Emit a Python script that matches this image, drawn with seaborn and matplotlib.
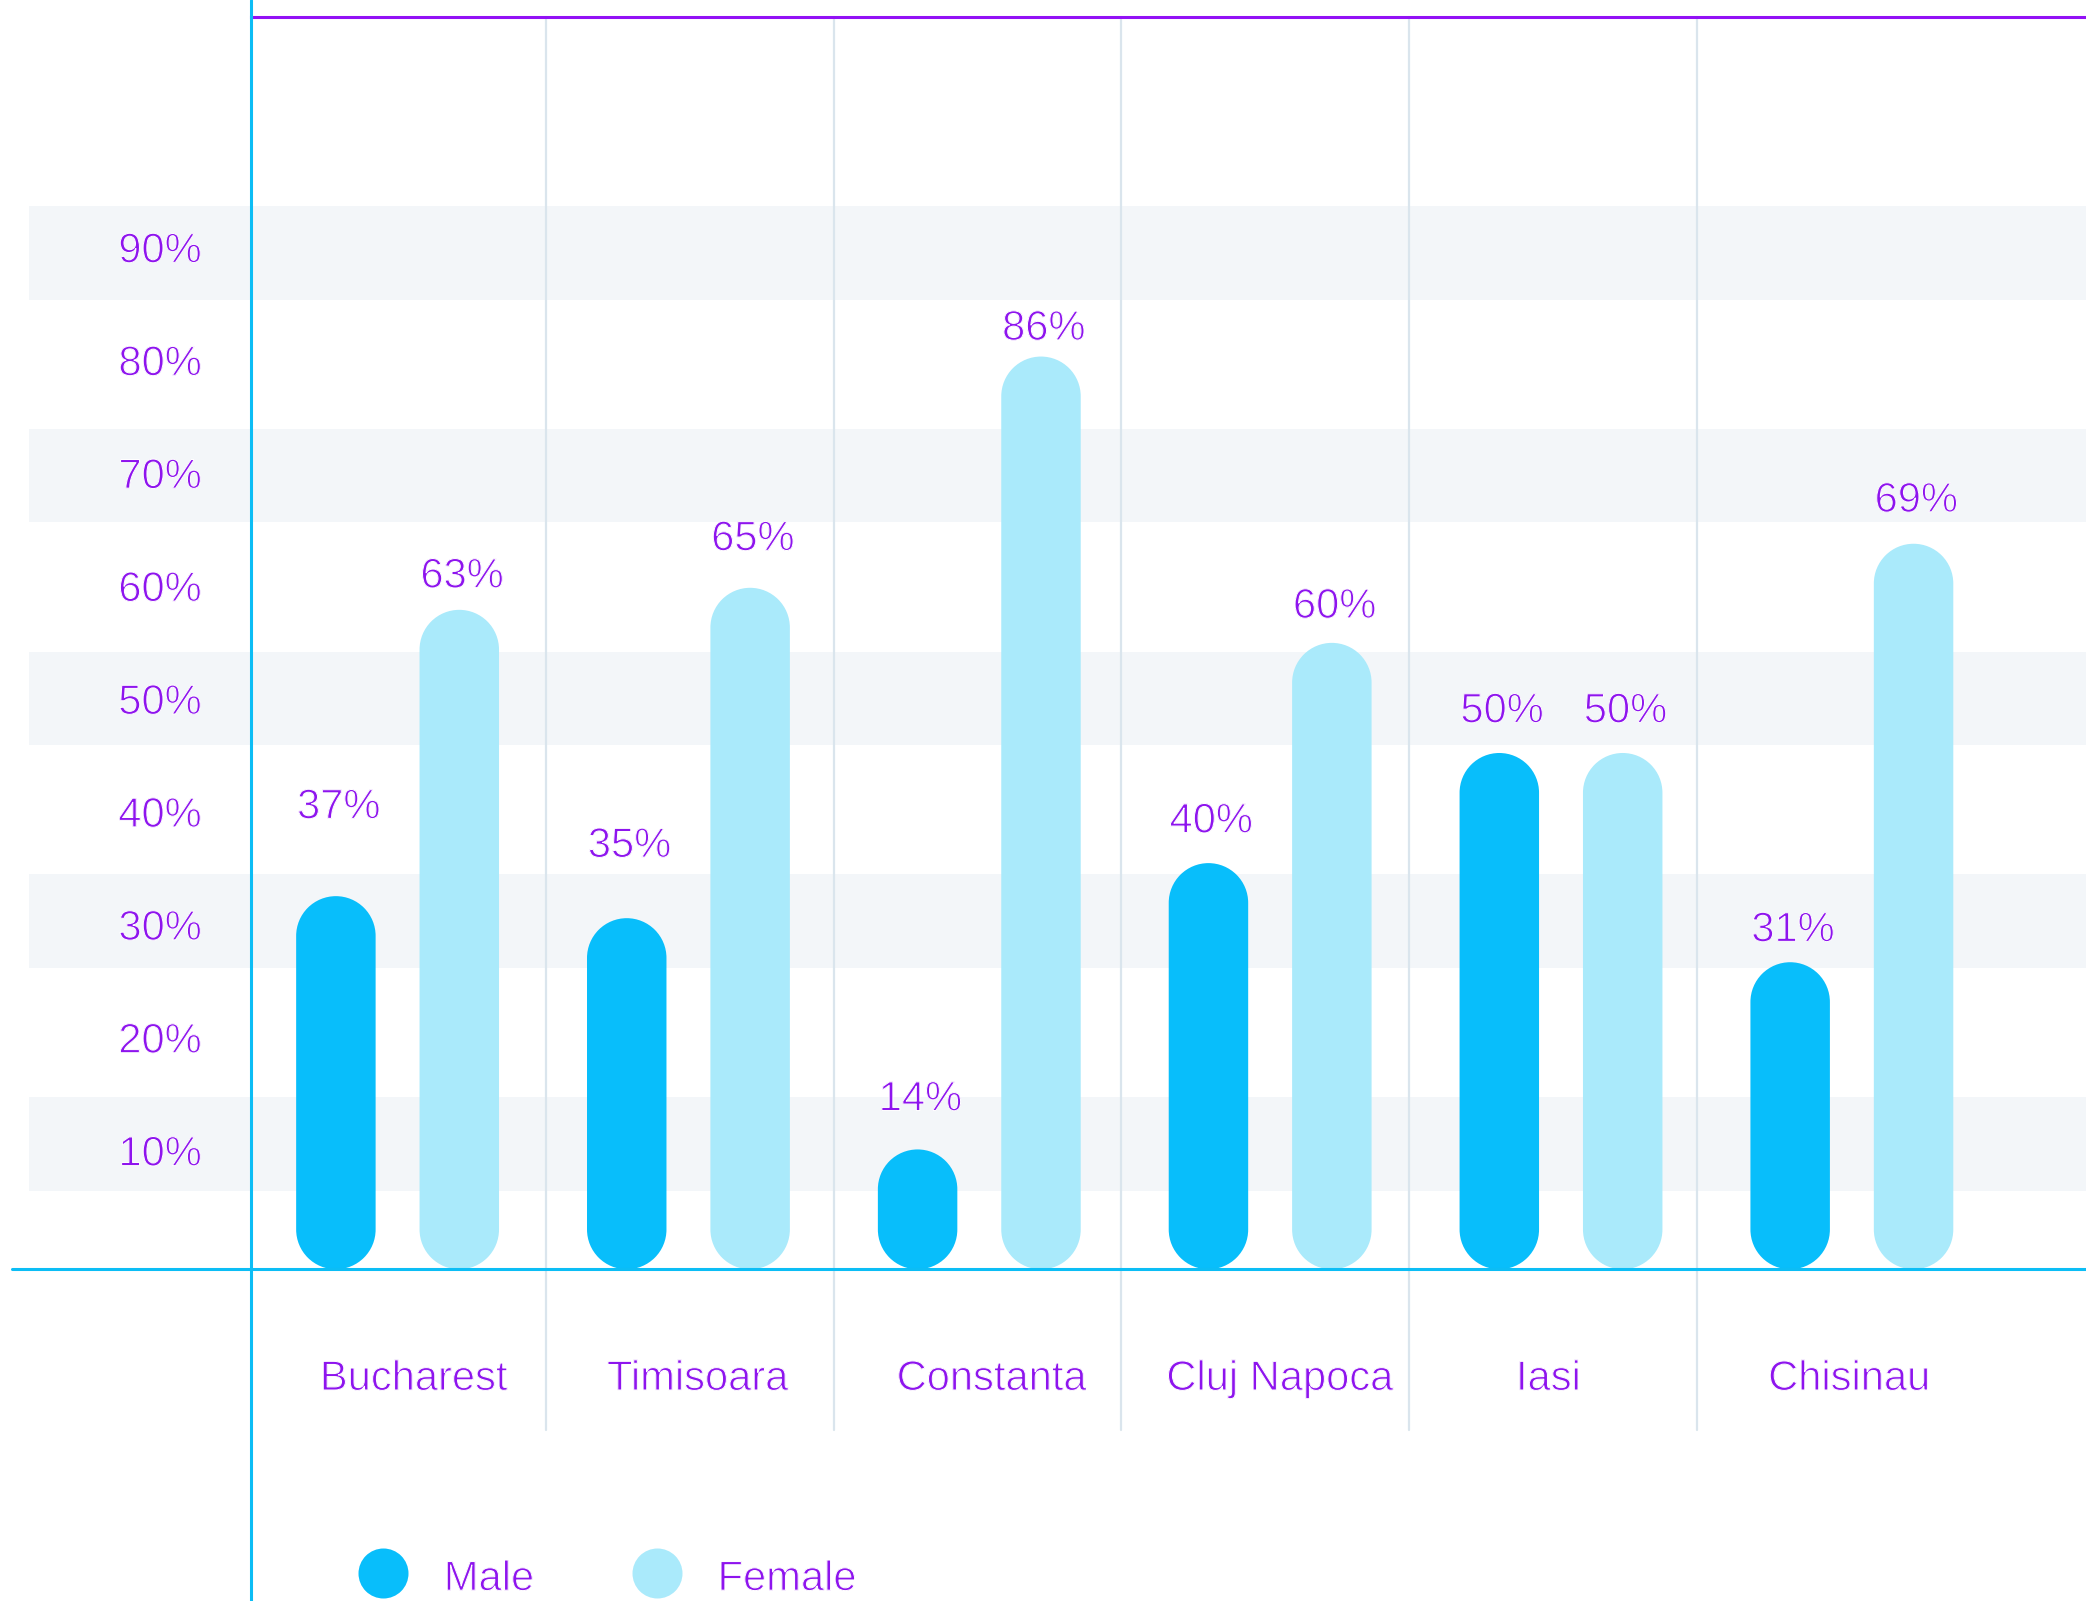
import numpy as np
import pandas as pd
import matplotlib
matplotlib.use("Agg")
import matplotlib.pyplot as plt
import matplotlib.patheffects as pe
from matplotlib.lines import Line2D
from matplotlib.patches import PathPatch
from matplotlib.path import Path
from matplotlib.text import Text
from matplotlib.transforms import ScaledTranslation
import seaborn as sns

# ---- data ----
cities = ["Bucharest", "Timisoara", "Constanta", "Cluj Napoca", "Iasi", "Chisinau"]
male = [37, 35, 14, 40, 50, 31]
female = [63, 65, 86, 60, 50, 69]
groups = ["Male", "Female"]
tick_values = [10, 20, 30, 40, 50, 60, 70, 80, 90]
band_values = [10, 30, 50, 70, 90]

# ---- styling ----
male_lift = [56, 44, 28, 22, 22, 15]      # value-label offsets above bar tops (pt)
female_lift = [16, 27, 12, 18, 22, 23]
city_shift = [11.5, 6.5, 8.7, 6.8, -9.2, -2.1]   # horizontal nudge of city names (pt)
separators = [0.509, 1.499, 2.487, 3.477, 4.467]

PURPLE = "#8E14EE"
TOP_LINE = "#9211F5"
MALE_C = "#08BEFB"
FEMALE_C = "#AAEAFB"
BAND = "#F3F6F9"
SEP = "#DAE5ED"
AXIS_BLUE = "#0CBDF5"
FS = 30

sns.set_style("white")
plt.rcParams["font.family"] = ["Liberation Sans", "DejaVu Sans"]

df = pd.DataFrame({
    "city": cities * 2,
    "share": male + female,
    "gender": ["Male"] * len(cities) + ["Female"] * len(cities),
})

W, H, DPI = 2086, 1601, 100
fig = plt.figure(figsize=(W / DPI, H / DPI), dpi=DPI)
fig.patch.set_facecolor("white")
ax_l, ax_b = 250.7 / W, 331.7 / H
ax_w, ax_h = (W - 250.7) / W, 1252.6 / H
ax = fig.add_axes([ax_l, ax_b, ax_w, ax_h])

sns.barplot(data=df, x="city", y="share", hue="gender", order=cities,
            hue_order=groups, palette=[MALE_C, FEMALE_C], saturation=1,
            width=0.8485, gap=0.356, dodge=True, errorbar=None, legend=False,
            linewidth=0, edgecolor="none", zorder=3, ax=ax)

Y0, Y1 = 3.115, 116.86
X0, X1 = -0.505, 5.805
ax.set_xlim(X0, X1)
ax.set_ylim(Y0, Y1)


# scale of the printed percentage axis relative to the bar axis
def to_bar(t):
    return 3.687 + 1.02525 * np.asarray(t, dtype=float)


def to_tick(y):
    return (np.asarray(y, dtype=float) - 3.687) / 1.02525


# value labels
for cont, vals, lifts in zip(ax.containers, [male, female], [male_lift, female_lift]):
    for bar, v, lift in zip(cont, vals, lifts):
        ax.annotate(f"{v}%", (bar.get_x() + bar.get_width() / 2, v),
                    xytext=(2, lift), textcoords="offset points",
                    ha="center", va="baseline", fontsize=FS, color=PURPLE)


# pill outline (round top and bottom) for a bar rectangle
def pill_path(x, w, bottom, top, ry):
    cx, rx = x + w / 2, w / 2
    upper = Path.arc(0, 180)
    lower = Path.arc(180, 360)
    v_up = np.column_stack([cx + rx * upper.vertices[:, 0],
                            top - ry + ry * upper.vertices[:, 1]])
    v_lo = np.column_stack([cx + rx * lower.vertices[:, 0],
                            bottom + ry + ry * lower.vertices[:, 1]])
    c_lo = lower.codes.copy()
    c_lo[0] = Path.LINETO
    verts = np.vstack([v_up, v_lo, v_up[:1]])
    codes = np.concatenate([upper.codes, c_lo, [Path.CLOSEPOLY]])
    return Path(verts, codes)


px_per_x = ax_w * W / (X1 - X0)
px_per_y = ax_h * H / (Y1 - Y0)
for cont in ax.containers:
    for bar in cont:
        x, w = bar.get_x(), bar.get_width()
        top = bar.get_y() + bar.get_height()
        ry = (w / 2) * px_per_x / px_per_y
        ax.add_patch(PathPatch(pill_path(x, w, Y0, top, ry),
                               facecolor=bar.get_facecolor(),
                               edgecolor="none", linewidth=0, zorder=3))
        bar.set_visible(False)

# horizontal bands around the odd tick levels
for t in band_values:
    c = 14.5 + (t - 10) * 1.0115
    span = ax.axhspan(c - 4.25, c + 4.25, xmin=-0.1208, xmax=1,
                      facecolor=BAND, edgecolor="none", zorder=0)
    span.set_clip_on(False)

# category separators
for s in separators:
    ax.axvline(s, ymin=-0.1283, ymax=1, color=SEP, lw=1.6, zorder=1,
               clip_on=False)

# baseline and left axis line
ax.axhline(Y0, xmin=-0.1303, xmax=1, color=AXIS_BLUE, lw=2.2, zorder=4,
           clip_on=False)
fig.add_artist(Line2D([ax_l, ax_l], [0, 1], transform=fig.transFigure,
                      color=AXIS_BLUE, lw=2.2, zorder=5))

for side in ["left", "right", "bottom"]:
    ax.spines[side].set_visible(False)
ax.spines["top"].set_color(TOP_LINE)
ax.spines["top"].set_linewidth(2.2)
ax.spines["top"].set_zorder(5)

ax.set_xlabel("")
ax.set_ylabel("")
ax.set_yticks([])
ax.tick_params(axis="x", length=0, pad=64.6, labelsize=FS, labelcolor=PURPLE)
for lbl, dx in zip(ax.get_xticklabels(), city_shift):
    lbl.set_transform(lbl.get_transform()
                      + ScaledTranslation(dx / 72, 0, fig.dpi_scale_trans))

sec = ax.secondary_yaxis("left", functions=(to_tick, to_bar))
sec.set_yticks(tick_values, labels=[f"{t}%" for t in tick_values])
sec.tick_params(length=0, pad=35.3, labelsize=FS, labelcolor=PURPLE)
sec.spines["left"].set_visible(False)

# legend
handles = [Line2D([], [], ls="none", marker="o", ms=36, mfc=c, mec="none")
           for c in (MALE_C, FEMALE_C)]
fig.legend(handles, groups, loc="center left",
           bbox_to_anchor=(358 / W, 24 / H), ncol=2, frameon=False,
           fontsize=FS, labelcolor=PURPLE, handlelength=1.2, handleheight=1.2,
           handletextpad=0.86, columnspacing=2.35, borderpad=0,
           borderaxespad=0)

# slightly lighter glyph strokes for all text
thin = [pe.Normal(), pe.Stroke(linewidth=0.75, foreground="white")]
for txt in fig.findobj(Text):
    if txt.get_text():
        txt.set_path_effects(thin)

fig.savefig("out.png", dpi=DPI, facecolor="white")
